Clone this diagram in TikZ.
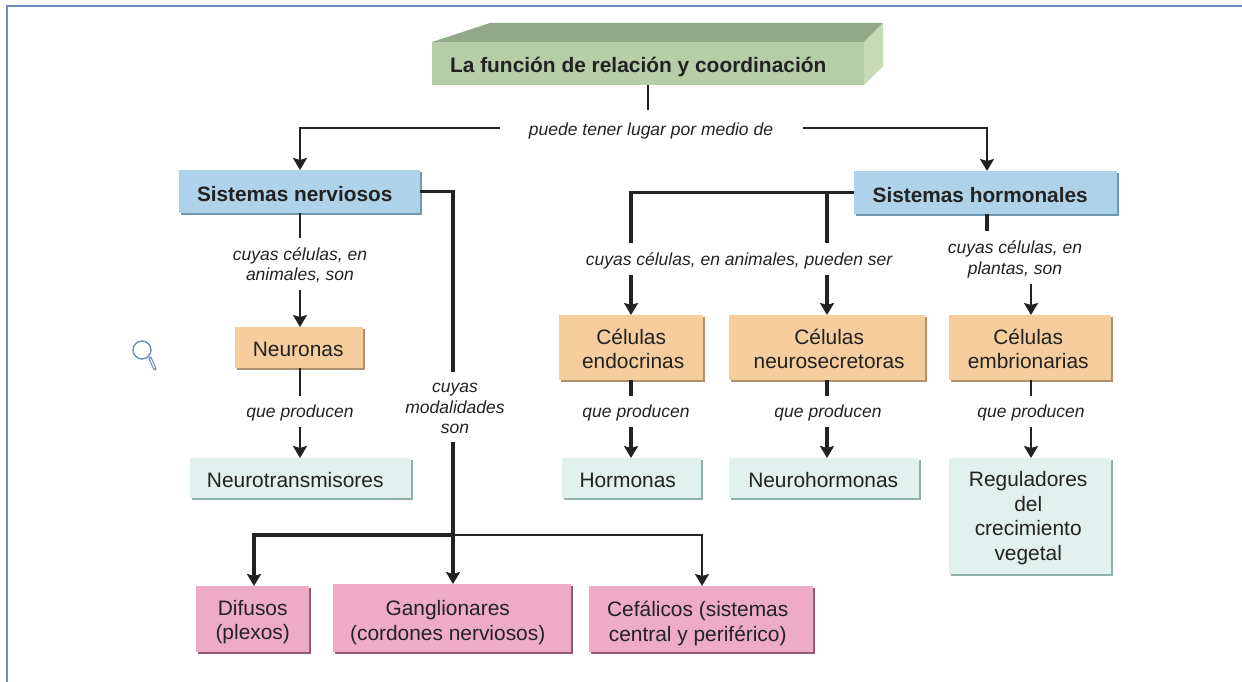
\documentclass[tikz,border=0pt]{standalone}
\usepackage{fontspec}
\setmainfont{Liberation Sans}
\usetikzlibrary{arrows.meta,shadows}
\definecolor{frameblue}{HTML}{6C8EBF}
\definecolor{ink}{HTML}{222222}
\definecolor{gfill}{HTML}{B5CEA8}
\definecolor{gtop}{HTML}{91A988}
\definecolor{gside}{HTML}{C6DAB8}
\definecolor{bfill}{HTML}{ADD2EA}
\definecolor{bedge}{HTML}{6E97B2}
\definecolor{ofill}{HTML}{F6CD9C}
\definecolor{oedge}{HTML}{B0906C}
\definecolor{tfill}{HTML}{E0F1EE}
\definecolor{tedge}{HTML}{8FAFAB}
\definecolor{pfill}{HTML}{EDABC6}
\definecolor{pedge}{HTML}{8F5C75}
\newcommand{\nudge}[1]{\hspace*{#1pt}}
\tikzset{
 x=1pt,y=-1pt,
 sized/.style 2 args={minimum width=#1pt,minimum height=#2pt},
 lift/.style={execute at begin node={\rule{0pt}{#1pt}}},
 card/.style={anchor=north west,align=center,inner sep=0pt,text=ink,font=\fontsize{20.9}{24.5}\selectfont},
 bluecard/.style={card,fill=bfill,lift=19,font=\fontsize{20.8}{24}\selectfont\bfseries,drop shadow={shadow xshift=2pt,shadow yshift=-2pt,opacity=1,fill=bedge}},
 orangecard/.style={card,fill=ofill,drop shadow={shadow xshift=2pt,shadow yshift=-2pt,opacity=1,fill=oedge}},
 tealcard/.style={card,fill=tfill,drop shadow={shadow xshift=2pt,shadow yshift=-2pt,opacity=1,fill=tedge}},
 pinkcard/.style={card,fill=pfill,drop shadow={shadow xshift=2pt,shadow yshift=-2pt,opacity=1,fill=pedge}},
 lbl/.style={align=center,inner sep=0pt,text=ink,font=\fontsize{17.5}{20.5}\selectfont\itshape},
 thin link/.style={draw=ink,line width=2pt},
 thick link/.style={draw=ink,line width=3.2pt},
 tip/.style={-{Stealth[inset=2pt,length=12pt,width=14pt,fill=ink]}},
}
\begin{document}
\begin{tikzpicture}
\useasboundingbox (0,0) rectangle (1242,682);
\draw[frameblue,line width=2pt] (6.5,682) -- (6.5,6) -- (1242,6);
% magnifier
\draw[frameblue,line width=1.4pt] (142,350) circle[radius=9];
\draw[frameblue,line width=3.4pt,line cap=round] (150,358) -- (155,369);
\draw[white,line width=1pt,line cap=round] (150.5,359) -- (154.5,368);
% title
\fill[gtop] (432,42) -- (490,23) -- (883,23) -- (864,42) -- cycle;
\fill[gside] (864,42) -- (883,23) -- (883,66) -- (864,85) -- cycle;
\node[card,fill=gfill,font=\fontsize{20.9}{24}\selectfont\bfseries,sized={432}{43},lift=21] (title) at (432,42) {\nudge{-20}La función de relación y coordinación};
% labels
\node[lbl] (lmedio) at (651,131) {puede tener lugar por medio de};
\node[lbl] (lnerv) at (300,265) {cuyas células, en\\animales, son};
\node[lbl] (lprod1) at (300,413) {que producen};
\node[lbl] (lmod) at (455,408.5) {cuyas\\modalidades\\son};
\node[lbl] (lanim) at (739,261) {cuyas células, en animales, pueden ser};
\node[lbl] (lplant) at (1015,259.5) {cuyas células, en\\plantas, son};
\node[lbl] (lprod2) at (636,413) {que producen};
\node[lbl] (lprod3) at (828,413) {que producen};
\node[lbl] (lprod4) at (1031,413) {que producen};
% cards
\node[bluecard,sized={241}{43}] (sn) at (179,170) {\nudge{-10}Sistemas nerviosos};
\node[bluecard,sized={263}{43}] (sh) at (854,171) {\nudge{-11}Sistemas hormonales};
\node[orangecard,lift=17,sized={128}{41}] (neu) at (235,327) {\nudge{-2}Neuronas};
\node[orangecard,lift=42,sized={144}{65}] (end) at (559,315) {Células\\\nudge{4}endocrinas};
\node[orangecard,lift=42,sized={196}{65}] (nsec) at (729,315) {\nudge{4}Células\\\nudge{4}neurosecretoras};
\node[orangecard,lift=42,sized={162}{65}] (emb) at (949,315) {\nudge{-4}Células\\\nudge{-4}embrionarias};
\node[tealcard,lift=19,sized={221}{40}] (ntr) at (190,458) {\nudge{-11}Neurotransmisores};
\node[tealcard,lift=19,sized={139}{40}] (hor) at (562,458) {\nudge{-8}Hormonas};
\node[tealcard,lift=19,sized={190}{40}] (nh) at (729,458) {\nudge{-2}Neurohormonas};
\node[tealcard,lift=92,sized={162}{116}] (reg) at (949,458) {\nudge{-4}Reguladores\\\nudge{-4}del\\\nudge{-4}crecimiento\\\nudge{-4}vegetal};
\node[pinkcard,lift=45.5,sized={113}{66}] (dif) at (196,586) {Difusos\\(plexos)};
\node[pinkcard,lift=48.5,sized={238}{68}] (gan) at (333,584) {\nudge{-9}Ganglionares\\\nudge{-9}(cordones nerviosos)};
\node[pinkcard,lift=48.5,sized={224}{66}] (cef) at (589,586) {\nudge{-7}Cefálicos (sistemas\\\nudge{-7}central y periférico)};
% junctions
\coordinate (c1) at (648,110);
\coordinate (mL) at (500,128);
\coordinate (mR) at (803,128);
\coordinate (sn1) at (300,238);
\coordinate (sh1) at (987,231);
\coordinate (t1) at (1031,284);
\coordinate (j) at (453,535);
% connectors
\draw[thin link] (title.south -| c1) -- (c1);
\draw[thin link,tip] (mL) -| (sn.north -| 300,0);
\draw[thin link,tip] (mR) -| (sh.north -| 987,0);
\draw[thin link] (sn.south -| 300,0) -- (sn1);
\draw[thin link,tip] (300,290) -- (neu.north -| 300,0);
\draw[thin link] (neu.south -| 300,0) -- (300,396);
\draw[thin link,tip] (300,427) -- (ntr.north -| 300,0);
\draw[thick link] (sn.east) -| (453,372);
\draw[thick link] (453,442) -- (j);
\draw[thick link,tip] (j) -- (gan.north -| 453,0);
\draw[thick link,tip] (j) -| (dif.north -| 254,0);
\draw[thin link,tip] (j) -| (cef.north -| 702,0);
\draw[thick link] (sh.west) -| (631,243);
\draw[thick link] (sh.west -| 827,0) -- (827,243);
\draw[thick link,tip] (631,275) -- (end.north -| 631,0);
\draw[thick link,tip] (827,275) -- (nsec.north -| 827,0);
\draw[thick link] (sh.south -| 987,0) -- (sh1);
\draw[thin link,tip] (t1) -- (emb.north -| 1031,0);
\draw[thick link] (end.south -| 631,0) -- (631,396);
\draw[thick link,tip] (631,427) -- (hor.north -| 631,0);
\draw[thick link] (nsec.south -| 827,0) -- (827,396);
\draw[thick link,tip] (827,427) -- (nh.north -| 827,0);
\draw[thin link] (emb.south -| 1031,0) -- (1031,396);
\draw[thin link,tip] (1031,427) -- (reg.north -| 1031,0);
\end{tikzpicture}
\end{document}
